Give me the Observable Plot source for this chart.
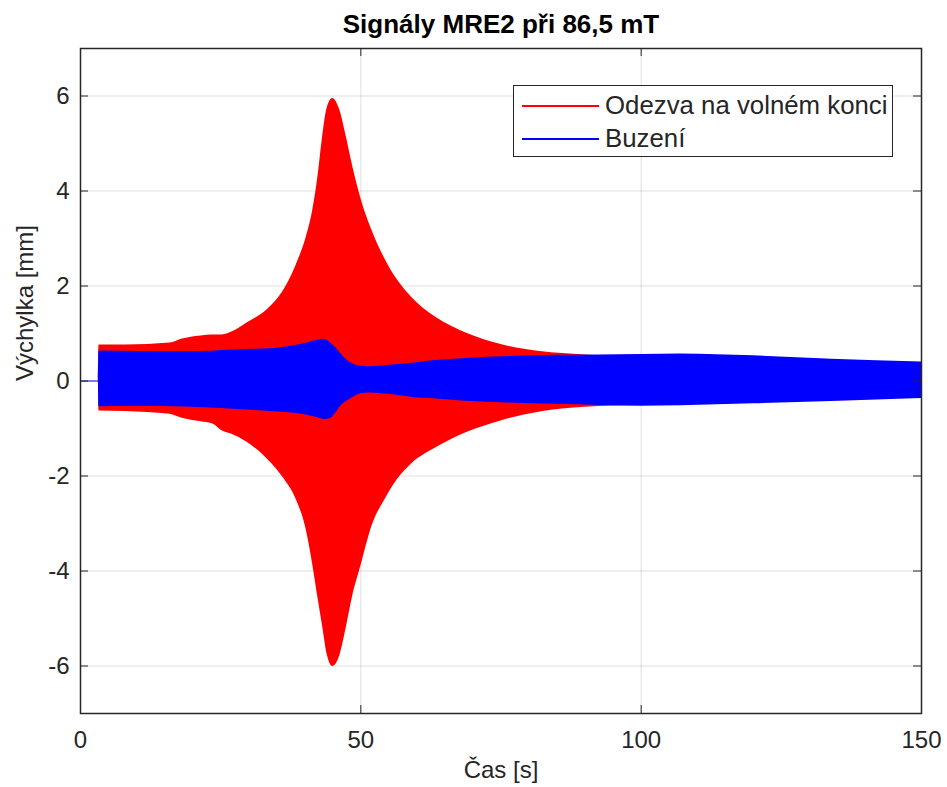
<!DOCTYPE html>
<html>
<head>
<meta charset="utf-8">
<script src="https://cdn.jsdelivr.net/npm/d3@7"></script>
<script src="https://cdn.jsdelivr.net/npm/@observablehq/plot@0.6"></script>
<style>
  html, body { margin: 0; padding: 0; background: #fff; }
  #wrap { position: relative; width: 947px; height: 787px; font-family: "Liberation Sans", Arial, sans-serif; }
  #legend { position: absolute; left: 513px; top: 85px; width: 378px; height: 70px; background: #fff; border: 1px solid #262626; box-sizing: content-box; }
  .lg-row { position: absolute; left: 0; height: 30px; width: 100%; }
  .lg-line { position: absolute; left: 8px; width: 77px; top: 14px; height: 2px; }
  .lg-text { position: absolute; left: 91px; top: 50%; transform: translateY(-52%); font-size: 25.8px; color: #262626; white-space: nowrap; }
</style>
</head>
<body>
<div id="wrap"></div>
<script>
// ---- data ----
const titleText = "Signály MRE2 při 86,5 mT";
const xLabel = "Čas [s]";
const yLabel = "Výchylka [mm]";
const seriesNames = ["Odezva na volném konci", "Buzení"];
const seriesColors = ["#ff0000", "#0000ff"];
const xTicks = [0, 50, 100, 150];
const yTicks = [-6, -4, -2, 0, 2, 4, 6];

// envelope of the response (red)
const redT  = [3.2, 3.3, 8, 16, 18, 21.5, 23.5, 25.3, 27, 29.7, 33.3, 36.3, 38.5, 40.2, 41.4, 42.4, 43.1, 44.0, 45.0, 46.2, 47.3, 48.5, 50.0, 52.0, 54.3, 56.5, 59.0, 63.5, 69.0, 75.0, 82, 90, 100, 120, 150];
const redHi = [0, 0.76, 0.76, 0.80, 0.88, 0.95, 0.97, 0.97, 1.03, 1.22, 1.50, 1.92, 2.45, 3.00, 3.58, 4.35, 5.06, 5.75, 5.95, 5.72, 5.20, 4.55, 3.85, 3.17, 2.57, 2.13, 1.77, 1.33, 1.00, 0.77, 0.62, 0.55, 0.51, 0.45, 0.36];
const redLo = [0, -0.63, -0.64, -0.70, -0.78, -0.86, -0.90, -1.05, -1.12, -1.29, -1.64, -2.06, -2.50, -3.10, -3.85, -4.60, -5.10, -5.76, -6.01, -5.80, -5.25, -4.55, -3.90, -3.05, -2.50, -2.08, -1.75, -1.40, -1.08, -0.84, -0.65, -0.55, -0.51, -0.44, -0.34];

// envelope of the excitation (blue)
const blueT  = [3.2, 3.3, 10, 20, 28, 34, 38, 40.4, 42.5, 43.5, 44.6, 45.5, 46.4, 47.6, 48.8, 50, 51.5, 55, 59.5, 62.4, 68, 75, 85, 100, 107, 120, 134, 150];
const blueHi = [0, 0.63, 0.62, 0.62, 0.66, 0.68, 0.74, 0.80, 0.87, 0.88, 0.80, 0.70, 0.58, 0.43, 0.35, 0.31, 0.30, 0.33, 0.38, 0.42, 0.47, 0.51, 0.54, 0.56, 0.57, 0.53, 0.46, 0.40];
const blueLo = [0, -0.54, -0.53, -0.55, -0.60, -0.64, -0.68, -0.72, -0.78, -0.81, -0.79, -0.68, -0.53, -0.42, -0.33, -0.27, -0.25, -0.28, -0.35, -0.37, -0.42, -0.46, -0.49, -0.53, -0.52, -0.48, -0.43, -0.37];

// flat excitation before the start
const flatT = [0, 3.2];
const flatV = [0, 0];

// ---- build tables ----
const red = redT.map((t, i) => ({t, hi: redHi[i], lo: redLo[i]}));
const blue = blueT.map((t, i) => ({t, hi: blueHi[i], lo: blueLo[i]}));
const flat = flatT.map((t, i) => ({t, v: flatV[i]}));

const W = 947, H = 787;
const mL = 80, mR = 26, mT = 48, mB = 74;
const innerW = W - mL - mR, innerH = H - mT - mB;
const axisColor = "#262626";
const tickLen = 8;
const fmt = d => String(d);

const plot = Plot.plot({
  width: W, height: H,
  marginLeft: mL, marginRight: mR, marginTop: mT, marginBottom: mB,
  style: {fontFamily: "'Liberation Sans', Arial, sans-serif", background: "#fff", color: axisColor},
  x: {domain: [0, 150]},
  y: {domain: [-7, 7]},
  marks: [
    Plot.gridX(xTicks, {stroke: axisColor, strokeOpacity: 0.15}),
    Plot.gridY(yTicks, {stroke: axisColor, strokeOpacity: 0.15}),
    Plot.areaY(red, {x: "t", y1: "lo", y2: "hi", fill: seriesColors[0], curve: "monotone-x"}),
    Plot.areaY(blue, {x: "t", y1: "lo", y2: "hi", fill: seriesColors[1], curve: "monotone-x"}),
    Plot.lineY(flat, {x: "t", y: "v", stroke: seriesColors[1], strokeWidth: 1.2}),
    // inward ticks on all four sides
    Plot.tickX(xTicks, {x: d => d, insetTop: innerH - tickLen, stroke: axisColor}),
    Plot.tickX(xTicks, {x: d => d, insetBottom: innerH - tickLen, stroke: axisColor}),
    Plot.tickY(yTicks, {y: d => d, insetRight: innerW - tickLen, stroke: axisColor}),
    Plot.tickY(yTicks, {y: d => d, insetLeft: innerW - tickLen, stroke: axisColor}),
    Plot.axisX(xTicks, {tickSize: 0, tickPadding: 17, fontSize: 24, label: null, color: axisColor, tickFormat: fmt}),
    Plot.axisY(yTicks, {tickSize: 0, tickPadding: 11, fontSize: 24, label: null, color: axisColor, tickFormat: fmt}),
    Plot.frame({stroke: axisColor, strokeWidth: 1.5}),
    Plot.text([titleText], {text: d => d, frameAnchor: "top", lineAnchor: "middle", dy: -24, fontSize: 26, fontWeight: "bold", fill: "#000"}),
    Plot.text([xLabel], {text: d => d, frameAnchor: "bottom", lineAnchor: "middle", dy: 57, fontSize: 24, fill: axisColor}),
    Plot.text([yLabel], {text: d => d, frameAnchor: "left", lineAnchor: "middle", dx: -55, rotate: -90, fontSize: 24, fill: axisColor})
  ]
});

const wrap = document.getElementById("wrap");
wrap.appendChild(plot);

// legend
const lg = document.createElement("div");
lg.id = "legend";
seriesNames.forEach((name, i) => {
  const row = document.createElement("div");
  row.className = "lg-row";
  row.style.top = (5 + i * 33) + "px";
  const ln = document.createElement("div");
  ln.className = "lg-line";
  ln.style.background = seriesColors[i];
  const tx = document.createElement("div");
  tx.className = "lg-text";
  tx.textContent = name;
  row.appendChild(ln); row.appendChild(tx);
  lg.appendChild(row);
});
wrap.appendChild(lg);
</script>
</body>
</html>
